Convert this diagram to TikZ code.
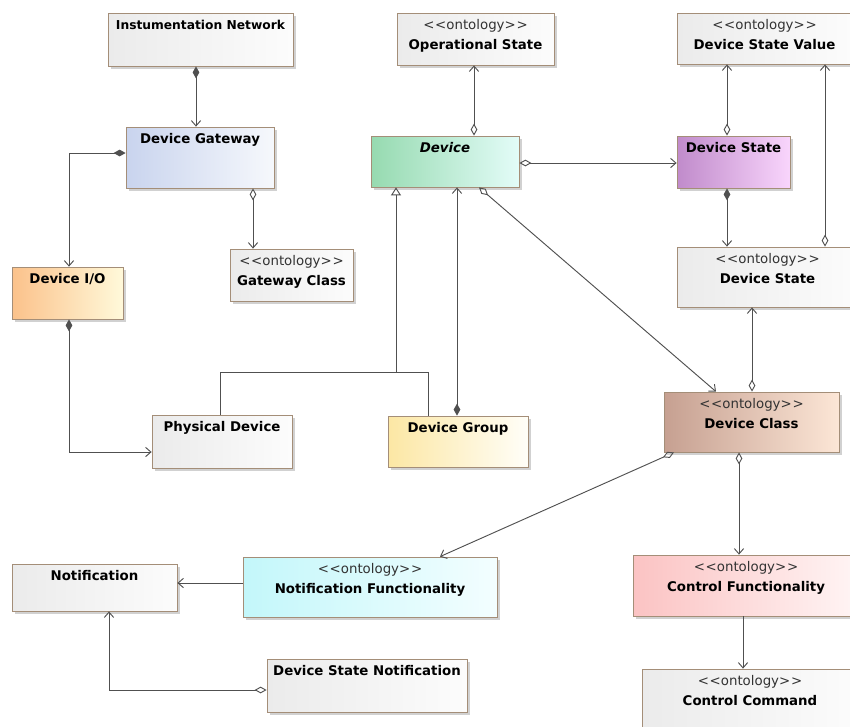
\documentclass[tikz,border=0pt]{standalone}
\usepackage{fontspec}
\setmainfont{DejaVu Sans}
\usetikzlibrary{arrows.meta,shadows,fit}

\definecolor{edge}{HTML}{505050}
\definecolor{frame}{HTML}{A48E78}
\definecolor{gL}{HTML}{EBEBEB}   \definecolor{gR}{HTML}{FCFCFC}
\definecolor{gwL}{HTML}{C9D4EE}  \definecolor{gwR}{HTML}{F6F8FC}
\definecolor{devL}{HTML}{96DAB0} \definecolor{devR}{HTML}{E3FCF8}
\definecolor{dstL}{HTML}{C08BCB} \definecolor{dstR}{HTML}{F9D5FC}
\definecolor{dioL}{HTML}{FBC28B} \definecolor{dioR}{HTML}{FFF9DA}
\definecolor{grpL}{HTML}{FCE7A4} \definecolor{grpR}{HTML}{FFFEF8}
\definecolor{dclL}{HTML}{C6A091} \definecolor{dclR}{HTML}{FCE6D6}
\definecolor{nfnL}{HTML}{C3F7FA} \definecolor{nfnR}{HTML}{F3FEFF}
\definecolor{cfnL}{HTML}{FBC3C3} \definecolor{cfnR}{HTML}{FFF5F5}

\tikzset{
  Nav/.tip={Straight Barb[length=4pt,width=7pt]},
  Agg/.tip={Diamond[open,length=9pt,width=5pt]},
  Comp/.tip={Diamond[length=9pt,width=5pt]},
  Gen/.tip={Triangle[open,length=6pt,width=7.5pt]},
}

\begin{document}
\begin{tikzpicture}[x=0.75pt,y=-0.75pt,
  box/.style={draw=frame, line width=0.6pt, inner sep=0pt,
    drop shadow={shadow xshift=2.2pt, shadow yshift=-2.2pt, fill=black!40, opacity=0.45}},
  shade box/.style 2 args={box, left color=#1, right color=#2},
  ttl/.style={font=\fontsize{10}{12}\selectfont\bfseries, text=black, inner sep=0pt},
  ttlsmall/.style={font=\fontsize{9.2}{11}\selectfont\bfseries, text=black, inner sep=0pt},
  ster/.style={font=\fontsize{10}{12}\selectfont, text=black!80, inner sep=0pt},
  title/.style={label={[ttl,anchor=base,yshift=-13pt]north:{#1}}},
  stereo/.style={label={[ster,anchor=base,yshift=-12.75pt]north:{<\kern.6pt<ontology>\kern.6pt>}},
                 label={[ttl,anchor=base,yshift=-27.75pt]north:{#1}}},
  conn/.style={draw=edge, line width=0.7pt},
]
\useasboundingbox (0,0) rectangle (850,726);
\clip (0,0) rectangle (850,726);
\fill[white] (0,0) rectangle (850,726);

% classes
\node[shade box={gL}{gR}, fit={(108,13) (293,66)},
      label={[ttlsmall,anchor=base,yshift=-12.5pt]north:Instumentation Network}] (inet) {};
\node[shade box={gwL}{gwR}, fit={(126,127) (274,188)}, title=Device Gateway] (gw) {};
\node[shade box={gL}{gR}, fit={(397,13) (554,65)}, stereo=Operational State] (ops) {};
\node[shade box={devL}{devR}, fit={(371,136) (519,187)}, title={\itshape Device}] (dev) {};
\node[shade box={gL}{gR}, fit={(677,13) (852,64)}, stereo=Device State Value] (dsv) {};
\node[shade box={dstL}{dstR}, fit={(677,136) (790,188)}, title=Device State] (dst) {};
\node[shade box={gL}{gR}, fit={(677,247) (858,307)}, stereo=Device State] (odst) {};
\node[shade box={dioL}{dioR}, fit={(12,267) (123,319)}, title=Device I/O] (dio) {};
\node[shade box={gL}{gR}, fit={(230,249) (353,301)}, stereo=Gateway Class] (gwc) {};
\node[shade box={gL}{gR}, fit={(152,415) (292,468)}, title=Physical Device] (phy) {};
\node[shade box={grpL}{grpR}, fit={(388,416) (528,467)}, title=Device Group] (grp) {};
\node[shade box={dclL}{dclR}, fit={(664,392) (839,452)}, stereo=Device Class] (dcl) {};
\node[shade box={gL}{gR}, fit={(12,564) (177,611)}, title=Notification] (ntf) {};
\node[shade box={nfnL}{nfnR}, fit={(243,557) (497,617)}, stereo=Notification Functionality] (nfn) {};
\node[shade box={gL}{gR}, fit={(267,659) (467,712)}, title=Device State Notification] (dsn) {};
\node[shade box={cfnL}{cfnR}, fit={(633,555) (859,616)}, stereo=Control Functionality] (cfn) {};
\node[shade box={gL}{gR}, fit={(642,669) (858,740)}, stereo=Control Command] (ccm) {};

% associations
\draw[conn, Comp-Nav] (inet.south -| 196,0) -- (gw.north -| 196,0);
\draw[conn, Comp-Nav] (gw.west |- 0,153) -| (dio.north -| 69,0);
\draw[conn, Agg-Nav]  (gw.south -| 253,0) -- (gwc.north -| 253,0);
\draw[conn, Comp-Nav] (dio.south -| 69,0) |- (phy.west |- 0,452);

% generalization of Physical Device and Device Group
\coordinate (gj) at (396,372);
\coordinate (gjr) at (428,372);
\draw[conn] (phy.north -| 220,0) |- (gjr) -- (grp.north -| gjr);
\draw[conn, -Gen] (gj) -- (dev.south -| gj);

\draw[conn, Comp-Nav] (grp.north -| 457,0) -- (dev.south -| 457,0);
\draw[conn, Agg-Nav]  (dev.south -| 479,0) -- (dcl.north -| 716,0);
\draw[conn, Agg-Nav]  (dev.north -| 474,0) -- (ops.south -| 474,0);
\draw[conn, Agg-Nav]  (dev.east |- 0,163) -- (dst.west |- 0,163);
\draw[conn, Agg-Nav]  (dst.north -| 727,0) -- (dsv.south -| 727,0);
\draw[conn, Comp-Nav] (dst.south -| 727,0) -- (odst.north -| 727,0);
\draw[conn, Agg-Nav]  (odst.north -| 825,0) -- (dsv.south -| 825,0);
\draw[conn, Agg-Nav]  (dcl.north -| 752,0) -- (odst.south -| 752,0);
\draw[conn, Agg-Nav]  (dcl.south -| 674,0) -- (nfn.north -| 440,0);
\draw[conn, Agg-Nav]  (dcl.south -| 739,0) -- (cfn.north -| 739,0);
\draw[conn, -Nav]     (nfn.west |- 0,583) -- (ntf.east |- 0,583);
\draw[conn, -Nav]     (cfn.south -| 743,0) -- (ccm.north -| 743,0);
\draw[conn, Agg-Nav]  (dsn.west |- 0,690) -| (ntf.south -| 109,0);
\end{tikzpicture}
\end{document}
